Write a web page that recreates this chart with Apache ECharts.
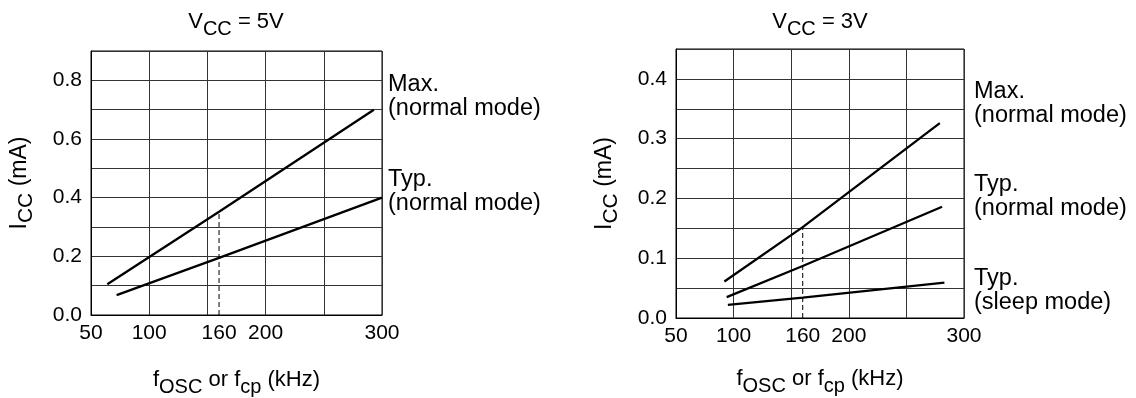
<!DOCTYPE html>
<html>
<head>
<meta charset="utf-8">
<script src="https://cdn.jsdelivr.net/npm/echarts@6/dist/echarts.min.js"></script>
<style>
html,body{margin:0;padding:0;background:#fff;}
#c{width:1136px;height:398px;}
</style>
</head>
<body>
<div id="c"></div>
<script>
// ---- data ----
const xTickValues = [50, 100, 160, 200, 300];
const y5TickValues = [0, 0.2, 0.4, 0.6, 0.8];
const y3TickValues = [0, 0.1, 0.2, 0.3, 0.4];

// VCC = 5V
const v5MaxFreq = [64, 160, 293];
const v5MaxIcc  = [0.105, 0.352, 0.700];
const v5TypFreq = [72, 160, 300];
const v5TypIcc  = [0.068, 0.195, 0.400];
const v5MarkerFreq = [160, 160];
const v5MarkerIcc  = [0, 0.352];

// VCC = 3V
const v3MaxFreq = [92, 160, 279];
const v3MaxIcc  = [0.061, 0.152, 0.326];
const v3TypFreq = [94, 160, 281];
const v3TypIcc  = [0.035, 0.087, 0.186];
const v3SleepFreq = [95, 160, 283];
const v3SleepIcc  = [0.022, 0.034, 0.059];
const v3MarkerFreq = [160, 160];
const v3MarkerIcc  = [0, 0.152];

const titles = ['{m|V}{s|CC}{m| = 5V}', '{m|V}{s|CC}{m| = 3V}'];
const xName = '{m|f}{s|OSC}{m| or f}{s|cp}{m| (kHz)}';
const yName = '{m|I}{s|CC}{m| (mA)}';
const leftNotes = ['Max.\n(normal mode)', 'Typ.\n(normal mode)'];
const rightNotes = ['Max.\n(normal mode)', 'Typ.\n(normal mode)', 'Typ.\n(sleep mode)'];

// ---- helpers ----
const FONT = '"Liberation Sans", Arial, Helvetica, sans-serif';
function zip(a, b) { return a.map((v, i) => [v, b[i]]); }
const rich = {
  m: { fontSize: 22, fontFamily: FONT, color: '#000', fontWeight: 'normal' },
  s: { fontSize: 20, fontFamily: FONT, color: '#000', fontWeight: 'normal', padding: [14, 0, 0, 0] }
};
const richY = {
  m: { fontSize: 23, fontFamily: FONT, color: '#000', fontWeight: 'normal' },
  s: { fontSize: 21, fontFamily: FONT, color: '#000', fontWeight: 'normal', padding: [14, 0, 0, 0] }
};
const GRIDC = '#333';

function xAxisCfg(gi, gap) {
  return {
    gridIndex: gi, type: 'value', min: 50, max: 300, interval: 50, position: 'bottom',
    axisLine: { show: true, onZero: false, lineStyle: { color: '#000', width: 1 } },
    axisTick: { show: false },
    axisLabel: { customValues: xTickValues, margin: 8, fontSize: 21, color: '#000', fontFamily: FONT },
    splitLine: { show: true, lineStyle: { color: GRIDC, width: 1 } },
    name: xName, nameLocation: 'middle', nameGap: gap,
    nameTextStyle: { rich: rich }
  };
}
function yAxisCfg(gi, max, interval, ticks, gap) {
  return {
    gridIndex: gi, type: 'value', min: 0, max: max, interval: interval,
    axisLine: { show: true, lineStyle: { color: '#000', width: 1 } },
    axisTick: { show: false },
    axisLabel: { customValues: ticks, margin: 9, fontSize: 21, color: '#000', fontFamily: FONT,
                 formatter: v => v.toFixed(1) },
    splitLine: { show: true, lineStyle: { color: GRIDC, width: 1 } },
    name: yName, nameLocation: 'middle', nameRotate: 90, nameGap: gap,
    nameTextStyle: { rich: richY }
  };
}
function lineSeries(xi, f, i) {
  return {
    type: 'line', xAxisIndex: xi, yAxisIndex: xi, data: zip(f, i),
    symbol: 'none', silent: true,
    lineStyle: { color: '#000', width: 2.3 }
  };
}
function dashSeries(xi, f, i) {
  return {
    type: 'line', xAxisIndex: xi, yAxisIndex: xi, data: zip(f, i),
    symbol: 'none', silent: true, z: 1,
    lineStyle: { color: '#000', width: 1, type: [5, 3] }
  };
}
function notes(list, x, tops) {
  return list.map((t, k) => ({
    type: 'text', x: x, y: tops[k], silent: true,
    style: { text: t, fontSize: 23.5, fontFamily: FONT, fill: '#000', lineHeight: 24,
             align: 'left', verticalAlign: 'top' }
  }));
}

const chart = echarts.init(document.getElementById('c'), null, { renderer: 'canvas' });
chart.setOption({
  animation: false,
  backgroundColor: '#fff',
  title: [
    { text: titles[0], left: 236, top: 5, padding: 0, textAlign: 'center',
      textStyle: { fontWeight: 'normal', rich: rich } },
    { text: titles[1], left: 820, top: 5, padding: 0, textAlign: 'center',
      textStyle: { fontWeight: 'normal', rich: rich } }
  ],
  grid: [
    { left: 91, top: 51, width: 291, height: 264, show: true, borderColor: '#000', borderWidth: 1,
      containLabel: false, outerBoundsMode: 'none' },
    { left: 676, top: 49, width: 288, height: 269, show: true, borderColor: '#000', borderWidth: 1,
      containLabel: false, outerBoundsMode: 'none' }
  ],
  xAxis: [xAxisCfg(0, 48), xAxisCfg(1, 44)],
  yAxis: [
    yAxisCfg(0, 0.9, 0.1, y5TickValues, 54),
    yAxisCfg(1, 0.45, 0.05, y3TickValues, 54)
  ],
  series: [
    lineSeries(0, v5MaxFreq, v5MaxIcc),
    lineSeries(0, v5TypFreq, v5TypIcc),
    dashSeries(0, v5MarkerFreq, v5MarkerIcc),
    lineSeries(1, v3MaxFreq, v3MaxIcc),
    lineSeries(1, v3TypFreq, v3TypIcc),
    lineSeries(1, v3SleepFreq, v3SleepIcc),
    dashSeries(1, v3MarkerFreq, v3MarkerIcc)
  ],
  graphic: [].concat(
    notes(leftNotes, 388, [72.5, 168]),
    notes(rightNotes, 974, [80, 173, 266.5])
  )
});
</script>
</body>
</html>
